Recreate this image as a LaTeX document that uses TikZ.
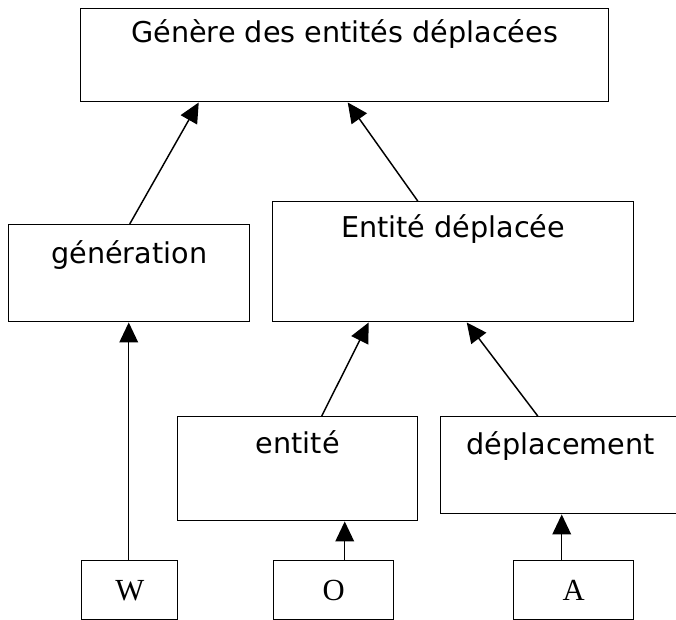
\documentclass[tikz,border=0pt]{standalone}
\usepackage{fontspec}
\setmainfont{DejaVu Sans}
\newfontfamily\lettres{Liberation Serif}
\usetikzlibrary{arrows.meta,calc}

\begin{document}
\begin{tikzpicture}[x=0.75pt,y=-0.75pt,
  boite/.style={draw,line width=1.1pt,inner sep=0pt,anchor=north west,
                font=\fontsize{21.5}{26}\selectfont},
  lettre/.style={draw,line width=1.1pt,inner sep=0pt,anchor=north west,
                 minimum height=44.25pt,font=\lettres\fontsize{23}{27}\selectfont},
  fleche/.style={-{Triangle[length=15pt,width=14pt]},line width=1.1pt}
]
\useasboundingbox (0,0) rectangle (676,620);
% niveau haut
\node[boite,minimum width=396pt,text height=25.5pt,text depth=44.25pt] (generer) at (80,8) {Génère des entités déplacées};
% niveau intermediaire
\node[boite,minimum width=180.75pt,text height=29.25pt,text depth=43.5pt] (generation) at (8,224) {génération};
\node[boite,minimum width=270.75pt,text height=27pt,text depth=63pt] (entdep) at (272,201) {Entité déplacée};
\node[boite,minimum width=180pt,text height=27.75pt,text depth=50.25pt] (entite) at (177,416) {entité};
\node[boite,minimum width=180pt,text height=28.5pt,text depth=44.25pt] (deplacement) at (440,416) {déplacement};
% lettres du bas
\node[lettre,minimum width=72pt] (W) at (81,560) {W};
\node[lettre,minimum width=90pt] (O) at (273,560) {O};
\node[lettre,minimum width=90pt] (A) at (513,560) {A};
% fleches
\draw[fleche] ($(generation.north)+(0.5,0)$) -- ($(generer.south)+(-146,0)$);
\draw[fleche] ($(entdep.north)+(-35.5,0)$) -- ($(generer.south)+(3,0)$);
\draw[fleche] ($(entite.north)+(24,0)$) -- ($(entdep.south)+(-84.5,0)$);
\draw[fleche] ($(deplacement.north)+(-23,0)$) -- ($(entdep.south)+(13.5,0)$);
\draw[fleche] ($(W.north)+(-1,0)$) -- ($(generation.south)+(-0.5,0)$);
\draw[fleche] ($(O.north)+(11,0)$) -- ($(entite.south)+(47,0)$);
\draw[fleche] ($(A.north)+(-12,0)$) -- ($(deplacement.south)+(1,0)$);
\end{tikzpicture}
\end{document}
